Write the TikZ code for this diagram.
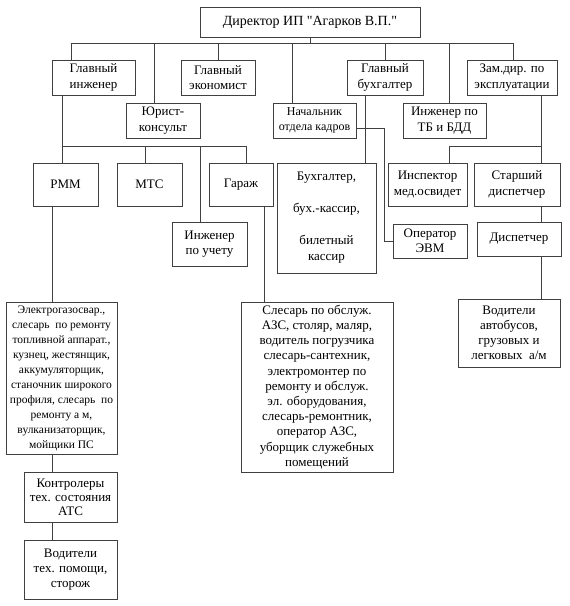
\documentclass[tikz,border=0pt]{standalone}
\usepackage{fontspec}
\setmainfont{Liberation Serif}[Ligatures=TeXOff]
\begin{document}
\begin{tikzpicture}[x=1pt,y=-1pt,
  box/.style={draw=black!75,line width=0.9pt,rectangle,inner sep=0pt,align=center,
    font=\fontsize{13}{15.5}\selectfont},
  smallbox/.style={box,font=\fontsize{11.5}{15}\selectfont},
  conn/.style={draw=black!75,line width=0.9pt}]
\useasboundingbox (0,0) rectangle (570,606);
% level 1
\node[box,minimum width=220pt,minimum height=30pt,font=\fontsize{14}{16}\selectfont] (dir) at (310,22) {Директор ИП "Агарков В.П."};
% level 2
\node[box,minimum width=83pt,minimum height=35pt] (gi) at (93.5,77.5) {Главный\\инженер};
\node[box,minimum width=74pt,minimum height=35pt] (ge) at (218,77.5) {Главный\\экономист};
\node[box,minimum width=74pt,minimum height=35pt] (yk) at (163,120.5) {Юрист-\\консульт};
\node[box,minimum width=83pt,minimum height=35pt,font=\fontsize{12}{15}\selectfont] (nk) at (314.5,120.5) {Начальник\\отдела кадров};
\node[box,minimum width=76pt,minimum height=35pt] (gb) at (385,77.5) {Главный\\бухгалтер};
\node[box,minimum width=83pt,minimum height=35pt] (itb) at (444.5,120.5) {Инженер по\\ТБ и БДД};
\node[box,minimum width=90pt,minimum height=35pt] (zd) at (512,77.5) {Зам.дир. по\\эксплуатации};
% level 3
\node[box,minimum width=65pt,minimum height=43pt] (rmm) at (65.5,184.5) {РММ};
\node[box,minimum width=65pt,minimum height=43pt] (mts) at (149.5,184.5) {МТС};
\node[box,minimum width=64pt,minimum height=43pt] (gar) at (241,184.5) {Гараж};
\node[box,minimum width=75pt,minimum height=44pt] (iu) at (209.5,244) {Инженер\\по учету};
\node[box,minimum width=99pt,minimum height=110pt,font=\fontsize{13}{16}\selectfont] (buh) at (326.5,218) {Бухгалтер,\\[16pt]бух.-кассир,\\[16pt]билетный\\кассир};
\node[box,minimum width=79pt,minimum height=43pt] (ins) at (427.5,184.5) {Инспектор\\мед.освидет};
\node[box,minimum width=86pt,minimum height=43pt] (sd) at (517,184.5) {Старший\\диспетчер};
\node[box,minimum width=74pt,minimum height=34pt] (oper) at (430,241) {Оператор\\ЭВМ};
\node[box,minimum width=84pt,minimum height=34pt] (disp) at (519,239) {Диспетчер};
\node[box,minimum width=102pt,minimum height=68pt,font=\fontsize{13}{15}\selectfont] (vod) at (509,333) {Водители\\автобусов,\\грузовых и\\легковых\ \ а/м};
% worker boxes
\node[smallbox,minimum width=111pt,minimum height=152pt] (el) at (61.5,378) {Электрогазосвар.,\\слесарь\ \ по ремонту\\топливной аппарат.,\\кузнец, жестянщик,\\аккумуляторщик,\\станочник широкого\\профиля, слесарь\ \ по\\ремонту а м,\\вулканизаторщик,\\мойщики ПС};
\node[box,minimum width=152pt,minimum height=170pt,font=\fontsize{13}{15.2}\selectfont] (sl) at (317,387) {Слесарь по обслуж.\\АЗС, столяр, маляр,\\водитель погрузчика\\слесарь-сантехник,\\электромонтер по\\ремонту и обслуж.\\эл. оборудования,\\слесарь-ремонтник,\\оператор АЗС,\\уборщик служебных\\помещений};
\node[box,minimum width=93pt,minimum height=50pt,font=\fontsize{13}{14}\selectfont] (kon) at (70.5,497) {Контролеры\\тех. состояния\\АТС};
\node[box,minimum width=93pt,minimum height=59pt,font=\fontsize{13}{15}\selectfont] (vtp) at (70.5,569.5) {Водители\\тех. помощи,\\сторож};
% coordinates
\coordinate (dbusL) at (71,43);
\coordinate (dbusR) at (513,43);
\coordinate (dY) at (154,43);
\coordinate (dN) at (292,43);
\coordinate (dT) at (449,43);
\coordinate (giL) at (62,146);
\coordinate (giR) at (246,146);
\coordinate (mB) at (145,146);
\coordinate (uB) at (200,146);
\coordinate (colA) at (52,300);
\coordinate (colB) at (264,250);
\coordinate (colC) at (365,130);
\coordinate (kk) at (384,128);
\coordinate (colD) at (541,146);
\coordinate (insT) at (449,146);
% director bus
\draw[conn] (dir.south) -- (dir.south |- dbusL);
\draw[conn] (dbusL) -- (dbusR);
\draw[conn] (dbusL) -- (gi.north -| dbusL);
\draw[conn] (dY) -- (yk.north -| dY);
\draw[conn] (ge.north) -- (ge.north |- dbusL);
\draw[conn] (dN) -- (nk.north -| dN);
\draw[conn] (gb.north) -- (gb.north |- dbusL);
\draw[conn] (dT) -- (itb.north -| dT);
\draw[conn] (dbusR) -- (zd.north -| dbusR);
% chief engineer bus
\draw[conn] (gi.south -| giL) -- (giL) -- (giR);
\draw[conn] (giL) -- (rmm.north -| giL);
\draw[conn] (mB) -- (mts.north -| mB);
\draw[conn] (uB) -- (iu.north -| uB);
\draw[conn] (giR) -- (gar.north -| giR);
% columns
\draw[conn] (rmm.south -| colA) -- (el.north -| colA);
\draw[conn] (el.south -| colA) -- (kon.north -| colA);
\draw[conn] (kon.south -| colA) -- (vtp.north -| colA);
\draw[conn] (gar.south -| colB) -- (sl.north -| colB);
\draw[conn] (gb.south -| colC) -- (buh.north -| colC);
\draw[conn] (nk.east |- kk) -- (kk) |- (oper.west);
% deputy director
\draw[conn] (zd.south -| colD) -- (sd.north -| colD);
\draw[conn] (colD) -- (insT) -- (ins.north -| insT);
\draw[conn] (sd.south -| colD) -- (disp.north -| colD);
\draw[conn] (disp.south -| colD) -- (vod.north -| colD);
\end{tikzpicture}
\end{document}
